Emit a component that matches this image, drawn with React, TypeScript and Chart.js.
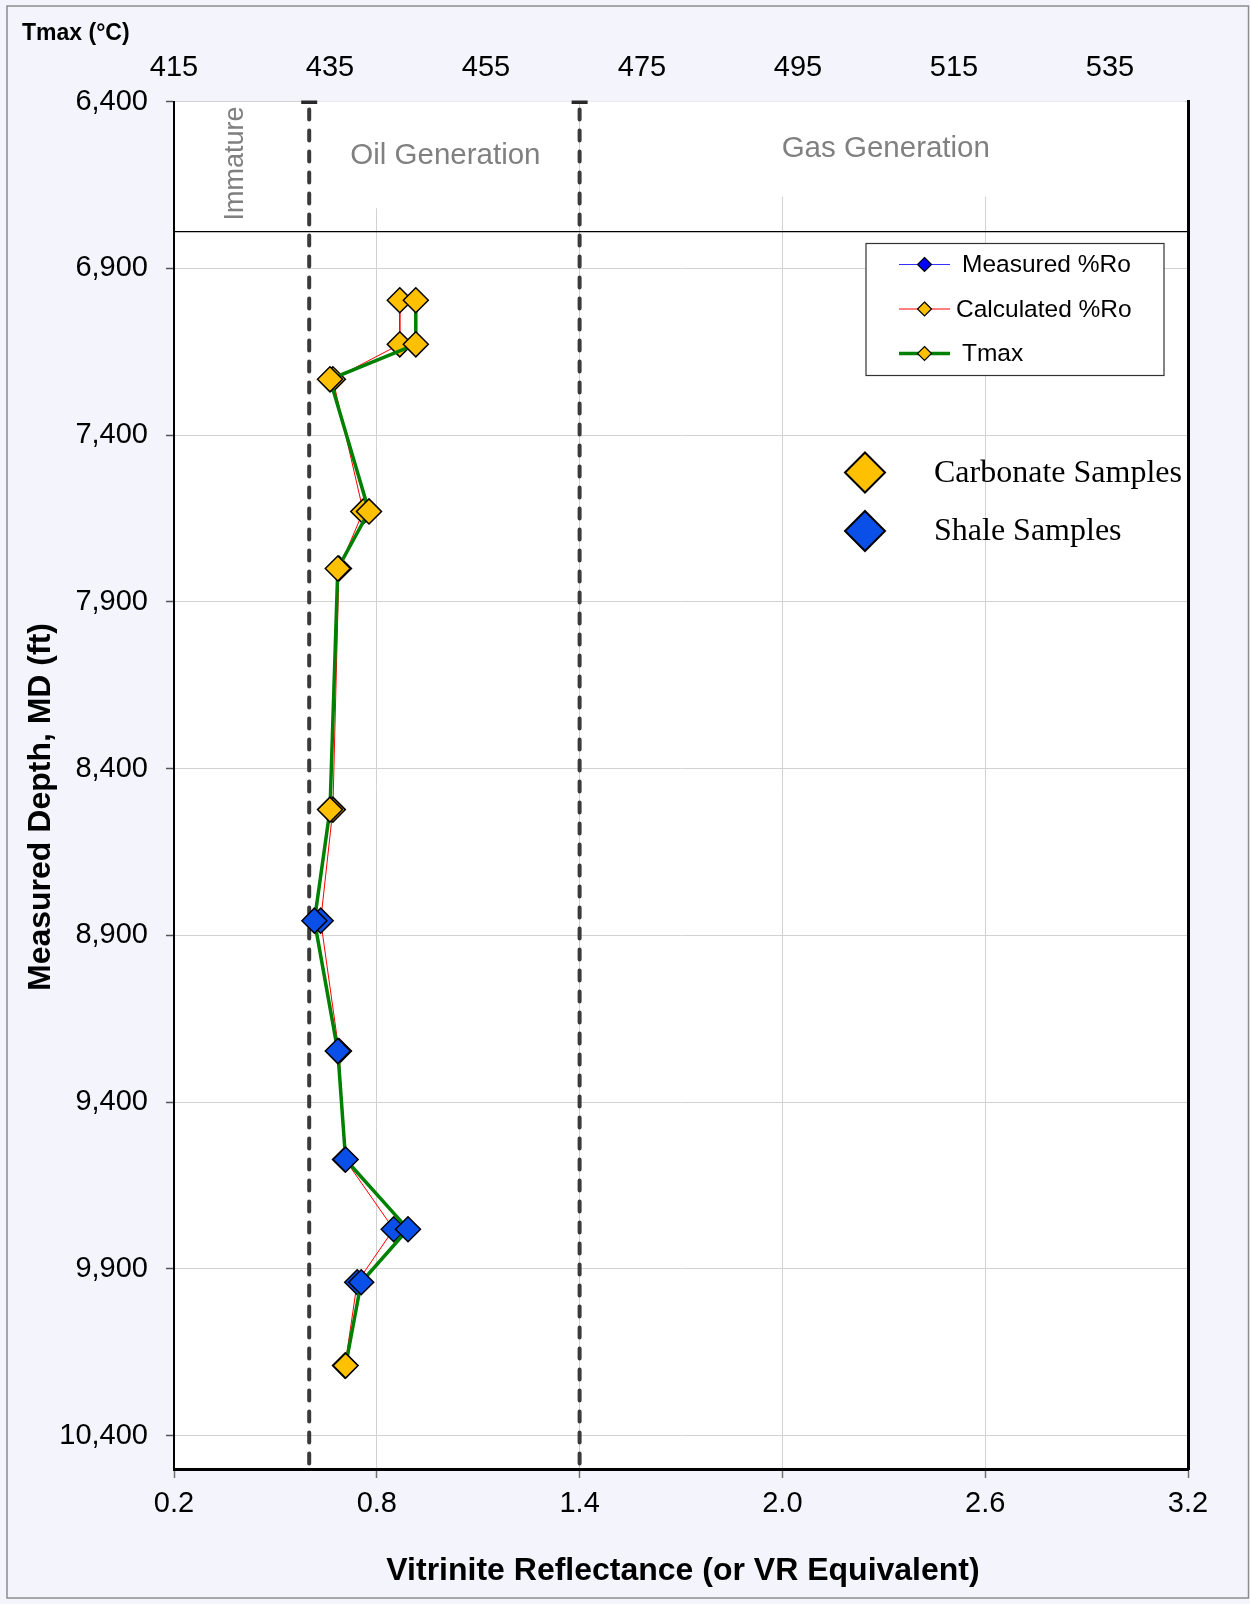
import React, { useEffect, useRef } from 'react';
import { Chart, registerables } from 'chart.js';

Chart.register(...registerables);

// ---- Sample data (depth in ft, MD) ----
const DEPTH_FT = [6996, 7128, 7233, 7629, 7800, 8523, 8856, 9247, 9572, 9781, 9940, 10190];
const LITHOLOGY = [
  'Carbonate', 'Carbonate', 'Carbonate', 'Carbonate', 'Carbonate', 'Carbonate',
  'Shale', 'Shale', 'Shale', 'Shale', 'Shale', 'Carbonate',
];
const TMAX_C = [446, 446, 435, 440, 436, 435, 433, 436, 437, 445, 439, 437];
const CALCULATED_RO = [0.868, 0.868, 0.67, 0.76, 0.688, 0.67, 0.634, 0.688, 0.706, 0.85, 0.742, 0.706];
const MEASURED_RO: number[] = [];

// ---- Axes ----
const DEPTH_TICKS = [6400, 6900, 7400, 7900, 8400, 8900, 9400, 9900, 10400];
const RO_TICKS = [0.2, 0.8, 1.4, 2.0, 2.6, 3.2];
const TMAX_TICKS = [415, 435, 455, 475, 495, 515, 535];

// Maturity windows on the %Ro scale
const OIL_WINDOW_RO = [0.6, 1.4];
const ZONE_LABELS = ['Immature', 'Oil Generation', 'Gas Generation'];
const HEADER_RULE_DEPTH = 6790;

const LITHO_COLORS: Record<string, string> = { Carbonate: '#FFC000', Shale: '#0A4FE8' };

const SANS = '"Liberation Sans", Arial, sans-serif';
const SERIF = '"Liberation Serif", "Times New Roman", serif';

function diamond(ctx: CanvasRenderingContext2D, x: number, y: number, r: number, fill: string, lw: number) {
  ctx.beginPath();
  ctx.moveTo(x, y - r);
  ctx.lineTo(x + r, y);
  ctx.lineTo(x, y + r);
  ctx.lineTo(x - r, y);
  ctx.closePath();
  ctx.fillStyle = fill;
  ctx.fill();
  ctx.lineWidth = lw;
  ctx.strokeStyle = '#000';
  ctx.stroke();
}

const decorPlugin = {
  id: 'decor',
  beforeDraw(chart: any) {
    const { ctx, width, height, chartArea: a } = chart;
    ctx.save();
    ctx.fillStyle = '#F4F4FD';
    ctx.fillRect(0, 0, width, height);
    ctx.strokeStyle = '#8c8c8c';
    ctx.lineWidth = 1.5;
    ctx.strokeRect(7, 6, width - 8.5, height - 12);
    ctx.fillStyle = '#FFFFFF';
    ctx.fillRect(a.left, a.top, a.right - a.left, a.bottom - a.top);
    ctx.restore();
  },
  beforeDatasetsDraw(chart: any) {
    const { ctx, chartArea: a } = chart;
    const xs = chart.scales.x;
    const ys = chart.scales.y;
    const xl = xs.getPixelForValue(OIL_WINDOW_RO[0]);
    const xr = xs.getPixelForValue(OIL_WINDOW_RO[1]);
    ctx.save();

    // white label frames in the header band
    ctx.fillStyle = '#FFFFFF';
    ctx.fillRect(xl + 5, a.top, xr - xl - 10, ys.getPixelForValue(6720) - a.top);
    ctx.fillRect(xr + 5, a.top, a.right - xr - 8, ys.getPixelForValue(6685) - a.top);

    // header rule
    const yRule = ys.getPixelForValue(HEADER_RULE_DEPTH);
    ctx.strokeStyle = '#000';
    ctx.lineWidth = 1.3;
    ctx.beginPath();
    ctx.moveTo(a.left, yRule);
    ctx.lineTo(a.right, yRule);
    ctx.stroke();

    // oil window boundaries
    for (const v of OIL_WINDOW_RO) {
      const px = xs.getPixelForValue(v);
      ctx.strokeStyle = '#3a3a3a';
      ctx.lineWidth = 4;
      ctx.lineCap = 'round';
      ctx.setLineDash([10, 11]);
      ctx.beginPath();
      ctx.moveTo(px, a.top + 8);
      ctx.lineTo(px, a.bottom);
      ctx.stroke();
      ctx.setLineDash([]);
      ctx.fillStyle = '#2a2a2a';
      ctx.fillRect(px - 8, a.top - 1, 16, 3.5);
    }

    // zone labels
    ctx.fillStyle = '#808080';
    ctx.textAlign = 'center';
    ctx.textBaseline = 'middle';
    ctx.font = `27px ${SANS}`;
    ctx.save();
    ctx.translate((a.left + xl) / 2 - 6, a.top + 62);
    ctx.rotate(-Math.PI / 2);
    ctx.fillText(ZONE_LABELS[0], 0, 0);
    ctx.restore();
    ctx.font = `29.5px ${SANS}`;
    ctx.fillText(ZONE_LABELS[1], (xl + xr) / 2 + 1, a.top + 54);
    ctx.fillText(ZONE_LABELS[2], (xr + a.right) / 2 + 2, a.top + 47);
    ctx.restore();
  },
  afterDraw(chart: any) {
    const { ctx, chartArea: a } = chart;
    const ds = chart.data.datasets;
    ctx.save();

    // series legend
    const bx = a.right - 322;
    const by = a.top + 142;
    const bw = 298;
    const bh = 132;
    ctx.fillStyle = '#FFFFFF';
    ctx.fillRect(bx, by, bw, bh);
    ctx.strokeStyle = '#333';
    ctx.lineWidth = 1.2;
    ctx.strokeRect(bx, by, bw, bh);
    const rows = [
      { d: ds[2], fill: '#0000FF', tx: 96 },
      { d: ds[1], fill: '#FFC000', tx: 90 },
      { d: ds[0], fill: '#FFC000', tx: 96 },
    ];
    ctx.font = `24.5px ${SANS}`;
    ctx.textBaseline = 'middle';
    ctx.textAlign = 'left';
    rows.forEach((r, i) => {
      const ry = by + 21 + i * 44.5;
      ctx.strokeStyle = r.d.borderColor;
      ctx.lineWidth = r.d.borderWidth;
      ctx.beginPath();
      ctx.moveTo(bx + 33, ry);
      ctx.lineTo(bx + 84, ry);
      ctx.stroke();
      diamond(ctx, bx + 58.5, ry, 7, r.fill, 1.2);
      ctx.fillStyle = '#000';
      ctx.fillText(r.d.label, bx + r.tx, ry + 1);
    });

    // lithology legend
    const lx = a.right - 323;
    ctx.font = `32px ${SERIF}`;
    [['Carbonate', 'Carbonate Samples', 472.5], ['Shale', 'Shale Samples', 531]].forEach(([k, t, yy]) => {
      diamond(ctx, lx, yy as number, 20, LITHO_COLORS[k as string], 2);
      ctx.fillStyle = '#000';
      ctx.fillText(t as string, lx + 69, (yy as number) + 1);
    });

    // axis titles
    ctx.fillStyle = '#000';
    ctx.textAlign = 'center';
    ctx.font = `bold 32px ${SANS}`;
    ctx.fillText('Vitrinite Reflectance (or VR Equivalent)', (a.left + a.right) / 2 + 2, 1571);
    ctx.save();
    ctx.translate(41, 807);
    ctx.rotate(-Math.PI / 2);
    ctx.fillText('Measured Depth, MD (ft)', 0, 0);
    ctx.restore();
    ctx.textAlign = 'left';
    ctx.font = `bold 23px ${SANS}`;
    ctx.fillText('Tmax (°C)', 22, 34);
    ctx.restore();
  },
};

export default function App() {
  const canvasRef = useRef<HTMLCanvasElement | null>(null);

  useEffect(() => {
    if (!canvasRef.current) return;
    Chart.defaults.font.family = SANS;
    const pointColors = LITHOLOGY.map((l) => LITHO_COLORS[l]);
    const markerStyle = {
      pointStyle: 'rectRot' as const,
      pointRadius: 12.5,
      pointHoverRadius: 12.5,
      pointBackgroundColor: pointColors,
      pointBorderColor: '#000',
      pointBorderWidth: 1.5,
      showLine: true,
      tension: 0,
    };
    const tickFont = { family: SANS, size: 29 };

    const chart = new Chart(canvasRef.current, {
      type: 'scatter',
      data: {
        datasets: [
          {
            label: 'Tmax',
            xAxisID: 'x2',
            yAxisID: 'y',
            data: DEPTH_FT.map((d, i) => ({ x: TMAX_C[i], y: d })),
            borderColor: '#008000',
            borderWidth: 3.5,
            order: 0,
            ...markerStyle,
          },
          {
            label: 'Calculated %Ro',
            xAxisID: 'x',
            yAxisID: 'y',
            data: DEPTH_FT.map((d, i) => ({ x: CALCULATED_RO[i], y: d })),
            borderColor: '#FF0000',
            borderWidth: 1,
            order: 1,
            ...markerStyle,
          },
          {
            label: 'Measured %Ro',
            xAxisID: 'x',
            yAxisID: 'y',
            data: MEASURED_RO.map((v, i) => ({ x: v, y: DEPTH_FT[i] })),
            borderColor: '#3333FF',
            borderWidth: 1,
            order: 2,
            ...markerStyle,
            pointBackgroundColor: '#0000FF',
          },
        ],
      },
      options: {
        animation: false,
        responsive: false,
        devicePixelRatio: 1,
        layout: { padding: 0 },
        plugins: { legend: { display: false }, tooltip: { enabled: false } },
        scales: {
          x: {
            type: 'linear',
            position: 'bottom',
            min: 0.2,
            max: 3.2,
            afterBuildTicks: (s: any) => { s.ticks = RO_TICKS.map((v) => ({ value: v })); },
            afterFit: (s: any) => { s.height = 135; },
            ticks: {
              callback: (v: any) => Number(v).toFixed(1),
              font: tickFont,
              color: '#000',
              padding: 9,
              autoSkip: false,
              maxRotation: 0,
            },
            grid: { color: '#d2d2d2', lineWidth: 1, tickLength: 9, tickColor: '#707070', tickWidth: 1.5 },
            border: { color: '#000', width: 3 },
          },
          x2: {
            type: 'linear',
            position: 'top',
            min: 415,
            max: 545,
            afterBuildTicks: (s: any) => { s.ticks = TMAX_TICKS.map((v) => ({ value: v })); },
            afterFit: (s: any) => { s.height = 101.5; },
            ticks: { font: tickFont, color: '#000', padding: 8, autoSkip: false, maxRotation: 0 },
            grid: { display: false },
            border: { display: false },
          },
          y: {
            type: 'linear',
            position: 'left',
            reverse: true,
            min: 6400,
            max: 10500,
            afterBuildTicks: (s: any) => { s.ticks = DEPTH_TICKS.map((v) => ({ value: v })); },
            afterFit: (s: any) => { s.width = 174; },
            ticks: {
              callback: (v: any) => Number(v).toLocaleString('en-US'),
              font: tickFont,
              color: '#000',
              padding: 18,
              autoSkip: false,
            },
            grid: { color: '#d2d2d2', lineWidth: 1, tickLength: 8, tickColor: '#555', tickWidth: 1.5 },
            border: { color: '#000', width: 2 },
          },
          y2: {
            type: 'linear',
            position: 'right',
            reverse: true,
            min: 6400,
            max: 10500,
            afterFit: (s: any) => { s.width = 62; },
            ticks: { display: false },
            grid: { drawOnChartArea: false, drawTicks: false },
            border: { color: '#000', width: 3 },
          },
        },
      },
      plugins: [decorPlugin],
    } as any);

    return () => chart.destroy();
  }, []);

  return (
    <div style={{ position: 'absolute', left: 0, top: 0, width: 1250, height: 1604 }}>
      <canvas ref={canvasRef} width={1250} height={1604} style={{ width: 1250, height: 1604, display: 'block' }} />
    </div>
  );
}
